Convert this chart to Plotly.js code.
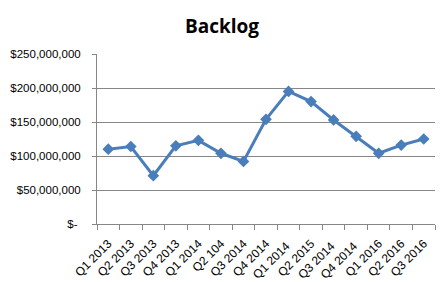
<!DOCTYPE html>
<html>
<head>
<meta charset="utf-8">
<script src="https://cdn.plot.ly/plotly-3.0.1.min.js"></script>
<style>html,body{margin:0;padding:0;background:#fff;}#chart{width:444px;height:282px;}</style>
</head>
<body>
<div id="chart"></div>
<script>
var categories = ["Q1 2013","Q2 2013","Q3 2013","Q4 2013","Q1 2014","Q2 104","Q3 2014","Q4 2014","Q1 2014 ","Q2 2015","Q3 2014 ","Q4 2014 ","Q1 2016","Q2 2016","Q3 2016"];
var backlog = [110000000,114000000,71000000,115000000,123000000,104000000,92000000,154000000,195000000,180000000,153000000,129000000,104000000,116000000,125000000];
var yTickVals = [0,50000000,100000000,150000000,200000000,250000000];
var yTickText = ["$- ","$50,000,000","$100,000,000","$150,000,000","$200,000,000","$250,000,000"];

var trace = {
  x: categories,
  y: backlog,
  type: "scatter",
  mode: "lines+markers",
  line: {color: "#4a7ebb", width: 3},
  marker: {symbol: "diamond", size: 9, color: "#4a7ebb"},
  hoverinfo: "none"
};
var layout = {
  width: 444, height: 282,
  margin: {l: 97, r: 9, t: 54, b: 58, pad: 0},
  paper_bgcolor: "#fff", plot_bgcolor: "#fff",
  showlegend: false,
  font: {family: "Liberation Sans, Arial, sans-serif", size: 11, color: "#000"},
  title: {text: "<b>Backlog</b>", x: 0.5, xanchor: "center", y: 0.905, yanchor: "middle",
          font: {family: "Open Sans, sans-serif", size: 19, color: "#000"}},
  xaxis: {
    type: "category",
    showgrid: false,
    showline: true, linecolor: "#868686", linewidth: 1,
    ticks: "outside", ticklen: 5, tickcolor: "#868686", tickson: "boundaries",
    tickangle: -45,
    tickfont: {size: 12},
    ticklabelstandoff: 7,
    range: [-0.5, 14.5],
    fixedrange: true, automargin: false
  },
  yaxis: {
    range: [0, 250000000],
    tickvals: yTickVals, ticktext: yTickText,
    showgrid: true, gridcolor: "#868686", gridwidth: 1,
    showline: true, linecolor: "#868686", linewidth: 1,
    ticks: "outside", ticklen: 4, tickcolor: "#868686",
    tickfont: {size: 11.5},
    ticklabelstandoff: 9,
    zeroline: false,
    fixedrange: true, automargin: false
  }
};
Plotly.newPlot("chart", [trace], layout, {displayModeBar: false, staticPlot: true});
</script>
</body>
</html>
